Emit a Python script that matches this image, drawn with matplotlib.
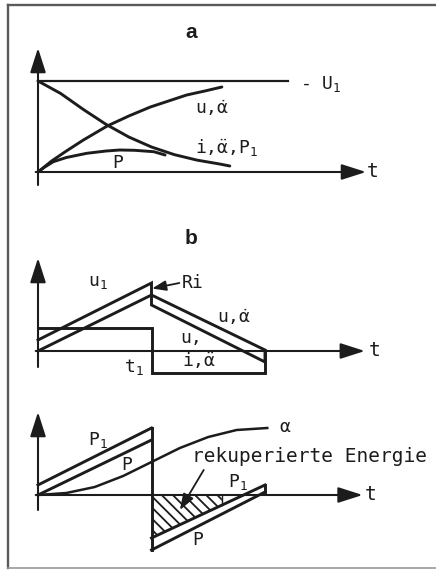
import matplotlib
matplotlib.use("Agg")
import matplotlib.pyplot as plt
import numpy as np

plt.rcParams['font.family'] = ['DejaVu Sans Mono', 'DejaVu Sans']
plt.rcParams['mathtext.fontset'] = 'custom'
plt.rcParams['mathtext.rm'] = 'DejaVu Sans Mono'
plt.rcParams['mathtext.it'] = 'DejaVu Sans Mono'
plt.rcParams['mathtext.bf'] = 'DejaVu Sans Mono:bold'
plt.rcParams['hatch.linewidth'] = 1.3

INK = '#1c1c1c'
FRAME = '#5a5a5a'

# ---------------- data (time in units of t1, values in arbitrary units) ----------------
# Panel a: switching on a constant voltage U1
a_U1_t = [0.0, 2.2]
a_U1_v = [9.1, 9.1]
a_i_t = [0.0, 0.2, 0.4, 0.6, 0.8, 1.0, 1.2, 1.4, 1.6, 1.69]
a_i_v = [9.1, 7.85, 6.25, 4.76, 3.50, 2.50, 1.74, 1.19, 0.80, 0.60]
a_u_t = [0.0, 0.12, 0.25, 0.4, 0.61, 0.8, 0.99, 1.15, 1.31, 1.47, 1.62]
a_u_v = [0.0, 1.1, 2.1, 3.2, 4.6, 5.6, 6.5, 7.1, 7.7, 8.1, 8.5]
a_P_t = [0.0, 0.06, 0.135, 0.25, 0.43, 0.6, 0.72, 0.85, 1.02, 1.12]
a_P_v = [0.0, 0.5, 1.03, 1.45, 1.87, 2.1, 2.2, 2.17, 2.03, 1.7]

# Panel b: ramp voltage, switching at t1
b_u_t = [0.0, 1.0, 2.0]
b_u_v = [0.0, 5.6, 0.1]
b_u1_t = [0.0, 1.0, 1.0, 2.0, 2.0]
b_u1_v = [1.1, 6.8, 4.6, -1.1, 0.0]
b_i_t = [0.0, 1.0, 1.0, 2.0, 2.0]
b_i_v = [2.3, 2.3, -2.2, -2.2, 0.0]

# Panel c: power and angle
c_P1_before_t = [0.0, 1.0]
c_P1_before_v = [1.0, 6.7]
c_P_before_t = [0.0, 1.0]
c_P_before_v = [0.0, 5.5]
c_P1_after_t = [1.0, 2.0]
c_P1_after_v = [-4.3, 1.0]
c_P_after_t = [1.0, 2.0]
c_P_after_v = [-5.5, 0.3]
c_alpha_t = [0.0, 0.25, 0.5, 0.75, 1.0, 1.25, 1.5, 1.75, 2.02]
c_alpha_v = [0.0, 0.2, 0.8, 1.9, 3.3, 4.7, 5.8, 6.5, 6.7]
c_hatch_end_t = 1.62   # hatching of the recovered energy stops here

# ---------------- figure ----------------
W, H = 436, 570
fig = plt.figure(figsize=(W / 100, H / 100), dpi=100)
fig.patch.set_facecolor('white')

# frame (pixel coordinates)
ax0 = fig.add_axes([0, 0, 1, 1])
ax0.set_xlim(0, W)
ax0.set_ylim(H, 0)
ax0.axis('off')
ax0.plot([8, 8], [5, 568], color=FRAME, lw=1.7)
ax0.plot([8, W], [5, 5], color=FRAME, lw=1.7)
ax0.plot([8, W], [568, 568], color='#9a9a9a', lw=1.2)
ax0.text(191, 32, 'a', family=['Liberation Sans'], fontweight='bold', fontsize=15,
         ha='center', va='center', color=INK)
ax0.text(191, 238, 'b', family=['Liberation Sans'], fontweight='bold', fontsize=15,
         ha='center', va='center', color=INK)

X0, PXT = 38.0, 113.5        # pixel of t=0, pixels per time unit
XL, XR = 20.0, 430.0


def panel(y_axis_px, y_top_px, y_bot_px):
    ax = fig.add_axes([XL / W, 1 - y_bot_px / H, (XR - XL) / W, (y_bot_px - y_top_px) / H])
    ax.set_xlim((XL - X0) / PXT, (XR - X0) / PXT)
    ax.set_ylim((y_axis_px - y_bot_px) / 10, (y_axis_px - y_top_px) / 10)
    ax.axis('off')
    ax.patch.set_alpha(0)
    return ax


def axes_arrows(ax, y_lo, y_tip, t_tip):
    arr = dict(arrowstyle='-|>,head_length=0.75,head_width=0.24', color=INK, lw=1.5,
               mutation_scale=20, shrinkA=0, shrinkB=0)
    ax.annotate('', xy=(0, y_tip), xytext=(0, y_lo), arrowprops=arr)
    ax.annotate('', xy=(t_tip, 0), xytext=(-0.02, 0), arrowprops=arr)


LW = 2.1
FS = 13

# ---------- panel a ----------
axa = panel(172, 40, 195)
axes_arrows(axa, -1.3, 12.4, 2.89)
axa.plot(a_U1_t, a_U1_v, color=INK, lw=1.6)
axa.plot(a_i_t, a_i_v, color=INK, lw=LW, solid_capstyle='round')
axa.plot(a_u_t, a_u_v, color=INK, lw=LW, solid_capstyle='round')
axa.plot(a_P_t, a_P_v, color=INK, lw=LW, solid_capstyle='round')
axa.text(2.31, 8.75, r'- U$_1$', fontsize=FS, ha='left', va='center', color=INK)
axa.text(1.38, 6.4, r'u,$\dot{\alpha}$', fontsize=FS, ha='left', va='center', color=INK)
axa.text(1.38, 2.5, r'i,$\ddot{\alpha}$,P$_1$', fontsize=FS, ha='left', va='center', color=INK)
axa.text(0.70, 0.85, 'P', fontsize=FS, ha='center', va='center', color=INK)
axa.text(2.95, 0.05, 't', fontsize=FS + 1, ha='center', va='center', color=INK)

# ---------- panel b ----------
axb = panel(351, 245, 385)
axes_arrows(axb, -1.6, 9.3, 2.88)
axb.plot(b_u_t, b_u_v, color=INK, lw=LW, solid_joinstyle='miter')
axb.plot(b_u1_t, b_u1_v, color=INK, lw=LW, solid_joinstyle='miter')
axb.plot(b_i_t, b_i_v, color=INK, lw=LW, solid_joinstyle='miter')
axb.text(0.44, 6.9, r'u$_1$', fontsize=FS, ha='left', va='center', color=INK)
axb.annotate('', xy=(1.005, 6.25), xytext=(1.245, 6.8),
             arrowprops=dict(arrowstyle='-|>,head_length=0.6,head_width=0.22', color=INK,
                             lw=1.3, mutation_scale=14, shrinkA=0, shrinkB=0))
axb.text(1.27, 6.8, 'Ri', fontsize=FS, ha='left', va='center', color=INK)
axb.text(1.575, 3.4, r'u,$\dot{\alpha}$', fontsize=FS, ha='left', va='center', color=INK)
axb.text(1.25, 1.3, 'u,', fontsize=FS, ha='left', va='center', color=INK)
axb.text(1.27, -0.9, r'i,$\ddot{\alpha}$', fontsize=FS, ha='left', va='center', color=INK)
axb.text(0.76, -1.6, r't$_1$', fontsize=FS, ha='left', va='center', color=INK)
axb.text(2.97, 0.05, 't', fontsize=FS + 1, ha='center', va='center', color=INK)

# ---------- panel c ----------
axc = panel(495, 400, 560)
axes_arrows(axc, -1.5, 8.3, 2.86)
ht = [c_P1_after_t[0], c_hatch_end_t]
hv = list(np.interp(ht, c_P1_after_t, c_P1_after_v))
axc.fill_between(ht, hv, 0, facecolor='none', edgecolor=INK, hatch='\\\\\\', lw=0)
axc.plot([c_hatch_end_t, c_hatch_end_t], [hv[-1], 0], color=INK, lw=1.0)
axc.plot(c_P1_before_t, c_P1_before_v, color=INK, lw=LW)
axc.plot(c_P_before_t, c_P_before_v, color=INK, lw=LW)
axc.plot(c_P1_after_t, c_P1_after_v, color=INK, lw=LW)
axc.plot(c_P_after_t, c_P_after_v, color=INK, lw=LW)
axc.plot([c_P1_before_t[-1], c_P_after_t[0]], [c_P1_before_v[-1], c_P_after_v[0]],
         color=INK, lw=LW)
axc.plot([c_P1_after_t[-1], c_P_after_t[-1]], [c_P1_after_v[-1], c_P_after_v[-1]],
         color=INK, lw=LW)
axc.plot(c_alpha_t, c_alpha_v, color=INK, lw=1.8)
axc.text(0.44, 5.5, r'P$_1$', fontsize=FS, ha='left', va='center', color=INK)
axc.text(0.73, 3.0, 'P', fontsize=FS, ha='left', va='center', color=INK)
axc.text(2.12, 6.8, r'$\alpha$', fontsize=FS, ha='left', va='center', color=INK)
axc.text(1.36, 3.8, 'rekuperierte Energie', fontsize=14, ha='left', va='center', color=INK)
axc.annotate('', xy=(1.25, -1.5), xytext=(1.46, 2.5),
             arrowprops=dict(arrowstyle='-|>,head_length=0.7,head_width=0.25', color=INK,
                             lw=1.3, mutation_scale=14, shrinkA=0, shrinkB=0))
axc.text(1.67, 1.3, r'P$_1$', fontsize=FS, ha='left', va='center', color=INK)
axc.text(1.36, -4.5, 'P', fontsize=FS, ha='left', va='center', color=INK)
axc.text(2.93, 0.05, 't', fontsize=FS + 1, ha='center', va='center', color=INK)

fig.savefig('out.png', dpi=100, facecolor='white')
